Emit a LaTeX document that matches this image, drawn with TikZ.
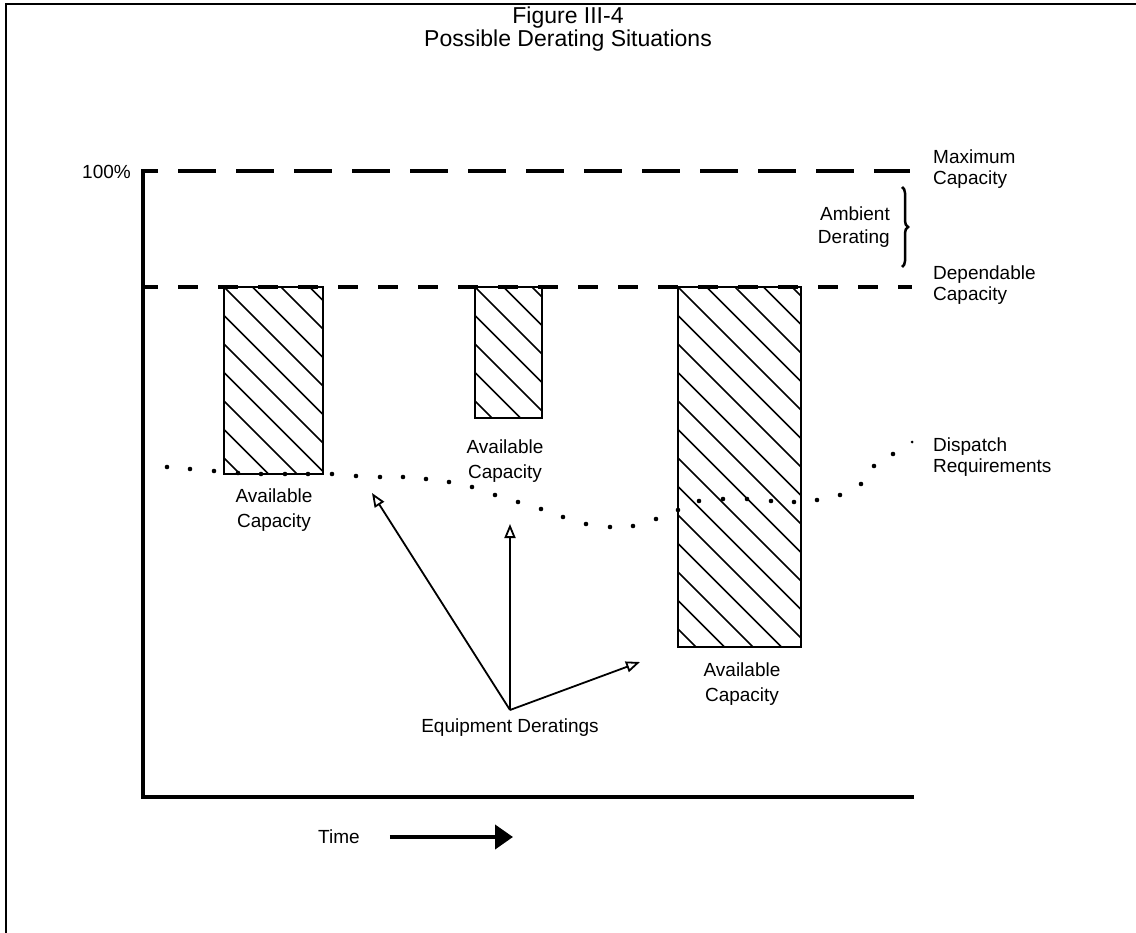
\documentclass[tikz,border=0pt]{standalone}
\usepackage{fontspec}
\setmainfont{Liberation Sans}
\usetikzlibrary{arrows.meta,decorations.pathreplacing}
\begin{document}
\begin{tikzpicture}[x=1pt,y=-1pt,
  lbl/.style={font=\fontsize{19}{25}\selectfont, align=center, inner sep=0pt},
  rlbl/.style={font=\fontsize{19}{20.5}\selectfont, align=left, anchor=west, inner sep=0pt},
  axisline/.style={line width=4pt},
  dashline/.style={line width=3.5pt},
  barline/.style={line width=1.8pt},
  hatch/.style={line width=1.6pt},
  dot/.style={fill=black},
  ptr/.style={line width=1.8pt, -{Triangle[open,length=14pt,width=11pt]}},
  timearrow/.style={line width=4pt, -{Triangle[length=18pt,width=24pt]}}]
\useasboundingbox (0,0) rectangle (1136,933);
% frame
\draw[line width=1.5pt] (1136,4) -- (6,4) -- (6,933);
% title
\node[font=\fontsize{23}{23}\selectfont, align=center, inner sep=0pt] (title) at (568,29.5) {Figure III-4\\Possible Derating Situations};
% axes
\draw[axisline] (158,171) -- (143,171) -- (143,797) -- (914,797);
\node[lbl, anchor=east] (pct) at (131,172) {100\%};
% maximum capacity line
\draw[dashline, dash pattern=on 38pt off 20pt] (178,171) -- (910,171);
% dependable capacity line
\draw[dashline, dash pattern=on 20pt off 20pt, dash phase=5pt] (143,287) -- (912,287);
% bars
\foreach \xa/\xb/\yb in {224/323/474, 475/542/418, 678/801/647}{
  \begin{scope}
    \clip (\xa,287) rectangle (\xb,\yb);
    \foreach \k in {-6,...,14} \draw[hatch] (\xa,287+\k*28.5) -- ++(420,420);
  \end{scope}
  \draw[barline] (\xa,287) rectangle (\xb,\yb);
}
% dispatch requirement dots
\foreach \p in {(167,467),(190,469),(214,471),(238,473),(261,474),(285,474),(308,474),(332,474),(356,476),(380,477),(403,477),(426,479),(449,482),(472,487),(495,495),(518,502),(541,509),(563,517),(586,524),(610,527),(633,526),(656,519),(678,510),(699,501),(723,499),(747,499),(771,501),(794,502),(817,500),(840,495),(861,484),(874,466),(893,454)}
  \fill[dot] \p circle (2.3pt);
\fill[dot] (912,442) circle (1.5pt);
% labels
\node[lbl] (av1) at (274,510) {Available\\Capacity};
\node[lbl] (av2) at (505,461) {Available\\Capacity};
\node[lbl] (av3) at (742,684) {Available\\Capacity};
\node[lbl] (eq) at (510,728) {Equipment Deratings};
\node[lbl, align=right, anchor=east, font=\fontsize{19}{23}\selectfont] (amb) at (890,227) {Ambient\\Derating};
\node[rlbl] (maxc) at (933,169) {Maximum\\Capacity};
\node[rlbl] (depc) at (933,285) {Dependable\\Capacity};
\node[rlbl] (disp) at (933,457) {Dispatch\\Requirements};
% brace
\draw[line width=2.5pt, decorate, decoration={brace, amplitude=6pt}] (902,187) -- (902,267);
% equipment derating arrows
\coordinate (eqbase) at (510,710);
\coordinate (t1) at (372,493);
\coordinate (t2) at (510,524);
\coordinate (t3) at (640,662);
\draw[ptr] (eqbase) -- (t1);
\draw[ptr] (eqbase) -- (t2);
\draw[ptr] (eqbase) -- (t3);
% time
\node[lbl] (time) at (339,837) {Time};
\coordinate (timeend) at (513,837);
\draw[timearrow] ([xshift=30pt]time.east) -- (timeend);
\end{tikzpicture}
\end{document}
